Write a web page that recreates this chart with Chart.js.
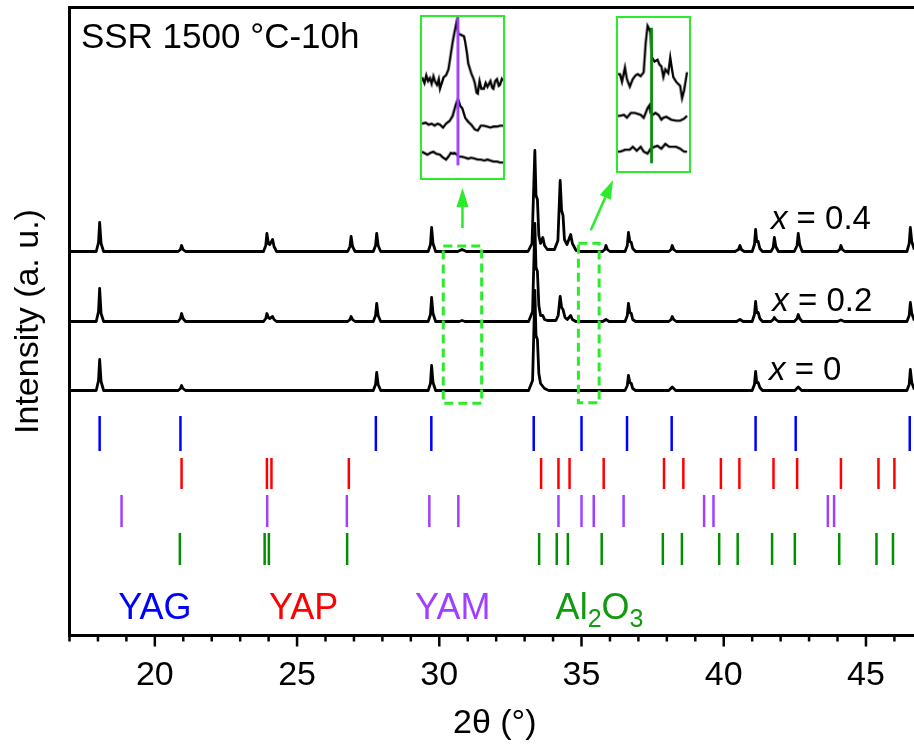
<!DOCTYPE html>
<html><head><meta charset="utf-8">
<script src="https://cdn.jsdelivr.net/npm/chart.js@4.4.1/dist/chart.umd.min.js"></script>
<style>
html,body{margin:0;padding:0;background:#fff;overflow:hidden;width:914px;height:744px;}
#wrap{position:relative;width:914px;height:744px;overflow:hidden;background:#fff;}
#main{position:absolute;left:0;top:0;}
.inset{position:absolute;background:#fff;border:2px solid #2beb2b;}
</style></head><body>
<div id="wrap">
<canvas id="main" width="920" height="744" style="width:920px;height:744px"></canvas>
<canvas id="in1" class="inset" width="85" height="165" style="left:420px;top:15px;width:85px;height:165px"></canvas>
<canvas id="in2" class="inset" width="75" height="157" style="left:616px;top:16px;width:75px;height:157px"></canvas>
</div>
<script>
// ---------- DATA ----------
const minorTicks = [17,18,19,20,21,22,23,24,25,26,27,28,29,30,31,32,33,34,35,36,37,38,39,40,41,42,43,44,45,46];
const majorTicks = [20,25,30,35,40,45];

// XRD patterns (2θ, intensity a.u., stacked)
const trace_x04 = [
[17.0,384],[17.94,384],[18.02,393],[18.06,413],[18.11,392],[18.20,384],
[20.82,384],[20.90,386],[20.94,390],[20.99,386],[21.08,384],
[23.82,384],[23.90,390],[23.94,402],[23.99,392],[24.04,391],[24.14,396],[24.19,389],[24.28,384],
[26.78,384],[26.86,389],[26.90,399],[26.95,389],[27.04,384],
[27.68,384],[27.76,390],[27.80,402],[27.85,390],[27.94,384],
[29.61,384],[29.69,391],[29.73,408],[29.78,392],[29.87,384],
[30.65,384],[30.80,386],[30.95,384],
[33.12,384],[33.26,392],[33.36,485],[33.40,440],[33.45,436],[33.50,400],[33.56,392],[33.64,398],[33.70,390],[33.80,386],
[34.05,386],[34.17,395],[34.25,455],[34.30,425],[34.35,420],[34.40,396],[34.49,391],[34.62,401],[34.68,392],[34.81,385],[34.95,384],
[35.74,384],[35.82,386],[35.86,390],[35.91,386],[36.00,384],
[36.53,384],[36.61,390],[36.65,403],[36.70,394],[36.75,393],[36.80,387],[36.90,384],
[38.07,384],[38.15,386],[38.19,390],[38.24,386],[38.33,384],
[40.40,384],[40.52,386],[40.57,390],[40.62,386],[40.72,384],
[41.00,384],[41.08,391],[41.12,406],[41.16,394],[41.21,394],[41.27,387],[41.36,384],
[41.66,384],[41.74,388],[41.78,398],[41.83,389],[41.92,384],
[42.48,384],[42.58,390],[42.62,402],[42.67,391],[42.76,384],
[44.00,384],[44.08,386],[44.12,390],[44.17,386],[44.26,384],
[46.44,384],[46.52,392],[46.56,408],[46.61,394],[46.70,386]
];
const trace_x02 = [
[17.0,314],[17.94,314],[18.02,324],[18.06,347],[18.11,322],[18.20,314],
[20.82,314],[20.90,317],[20.94,322],[20.99,317],[21.08,314],
[23.82,314],[23.90,317],[23.94,322],[23.99,318],[24.04,317],[24.14,319],[24.19,316],[24.28,314],
[26.78,314],[26.86,316],[26.90,319],[26.95,316],[27.04,314],
[27.68,314],[27.76,320],[27.80,332],[27.85,320],[27.94,314],
[29.61,314],[29.69,321],[29.73,338],[29.78,322],[29.87,314],
[30.70,314],[30.80,315],[30.90,314],
[33.14,314],[33.28,324],[33.36,412],[33.40,368],[33.45,364],[33.50,330],[33.56,320],[33.64,320],[33.70,316],[33.80,315],
[34.10,315],[34.18,320],[34.25,339],[34.30,328],[34.35,326],[34.42,318],[34.50,316],[34.62,320],[34.68,316],[34.80,314],
[35.75,314],[35.86,316],[35.97,314],
[36.53,314],[36.61,320],[36.65,332],[36.70,323],[36.75,322],[36.80,316],[36.90,314],
[38.07,314],[38.15,316],[38.19,319],[38.24,316],[38.33,314],
[40.45,314],[40.57,316],[40.68,314],
[41.00,314],[41.08,321],[41.12,334],[41.16,323],[41.21,323],[41.27,317],[41.36,314],
[41.66,314],[41.74,316],[41.78,318],[41.83,316],[41.92,314],
[42.48,314],[42.58,317],[42.62,321],[42.67,317],[42.76,314],
[44.00,314],[44.12,315.5],[44.24,314],
[46.44,314],[46.52,320],[46.56,333],[46.61,322],[46.70,315]
];
const trace_x0 = [
[17.0,245],[17.94,245],[18.02,255],[18.06,276],[18.11,254],[18.20,245],
[20.82,245],[20.90,247],[20.94,250],[20.99,247],[21.08,245],
[27.68,245],[27.76,251],[27.80,263],[27.85,251],[27.94,245],
[29.61,245],[29.69,252],[29.73,270],[29.78,253],[29.87,245],
[33.14,245],[33.28,255],[33.36,345],[33.40,300],[33.45,296],[33.50,262],[33.56,252],[33.70,247],[33.85,245],
[36.53,245],[36.61,250],[36.65,260],[36.70,253],[36.75,252],[36.80,247],[36.90,245],
[38.07,245],[38.19,248.5],[38.31,245],
[41.00,245],[41.08,251],[41.12,264],[41.16,253],[41.21,253],[41.27,248],[41.36,245],
[42.50,245],[42.62,248.5],[42.74,245],
[46.44,245],[46.52,251],[46.56,266],[46.61,253],[46.70,246]
];

// Reference stick positions (2θ)
const yagPeaks   = [18.06,20.90,27.77,29.72,33.32,35.00,36.60,38.17,41.12,42.53,46.54];
const yapPeaks   = [20.94,23.94,24.10,26.82,33.58,34.19,34.58,35.78,37.90,38.58,39.90,40.55,41.75,42.58,44.12,45.44,46.00];
const yamPeaks   = [18.83,23.95,26.75,29.65,30.67,34.19,35.00,35.43,36.48,39.31,39.64,43.66,43.88];
const al2o3Peaks = [20.88,23.86,24.01,26.76,33.51,34.13,34.52,35.71,37.86,38.53,39.84,40.49,41.70,42.50,44.06,45.37,45.95];

// Inset 1 (2θ 30.14–31.49), YAM marker at 30.74
const inset1_x04 = [[30.14,104],[30.18,98],[30.21,106],[30.24,100],[30.27,103],[30.30,97],[30.33,105],[30.36,99],[30.39,96],[30.42,102],[30.44,92],[30.47,98],[30.50,104],[30.54,106],[30.58,112],[30.62,128],[30.65,140],[30.68,150],[30.70,156],[30.72,162],[30.75,148],[30.78,148],[30.81,147],[30.84,146],[30.86,140],[30.89,128],[30.91,118],[30.96,108],[31.00,102],[31.02,98],[31.05,88],[31.07,87],[31.10,100],[31.13,92],[31.17,92],[31.20,98],[31.23,94],[31.28,100],[31.31,93],[31.33,92],[31.36,100],[31.39,102],[31.42,95],[31.44,96],[31.47,102],[31.49,100]];
const inset1_x02 = [[30.14,56],[30.20,57],[30.25,55],[30.30,56],[30.35,54],[30.40,56],[30.44,55],[30.49,52],[30.54,56],[30.60,59],[30.65,64],[30.70,75],[30.74,82],[30.76,78],[30.78,74],[30.81,72],[30.84,66],[30.86,62],[30.91,58],[30.96,55],[31.02,50],[31.07,49],[31.12,54],[31.17,54],[31.23,53],[31.28,52],[31.33,53],[31.39,53],[31.44,54],[31.49,54]];
const inset1_x0  = [[30.14,27],[30.20,25],[30.23,24],[30.28,26],[30.33,27],[30.38,25],[30.44,24],[30.49,21],[30.54,19],[30.58,22],[30.62,26],[30.66,25],[30.68,26],[30.72,24],[30.75,22],[30.80,22],[30.86,21],[30.91,20],[30.96,21],[31.02,20],[31.07,19],[31.12,19],[31.18,18],[31.23,19],[31.28,18],[31.33,17],[31.39,17],[31.44,16],[31.49,16]];
// Inset 2 (2θ 34.88–35.60), Al2O3 marker at 35.22
const inset2_x04 = [[34.88,100],[34.90,100],[34.92,92],[34.95,107],[34.97,95],[35.00,87],[35.03,95],[35.06,99],[35.08,100],[35.11,98],[35.14,102],[35.16,132],[35.18,150],[35.20,146],[35.21,143],[35.22,118],[35.25,113],[35.28,115],[35.30,110],[35.32,108],[35.34,97],[35.36,105],[35.39,101],[35.41,117],[35.42,110],[35.44,97],[35.47,92],[35.51,88],[35.53,75],[35.55,83],[35.58,102]];
const inset2_x02 = [[34.88,57],[34.90,57],[34.94,58],[34.97,55],[35.01,60],[35.05,60],[35.08,59],[35.11,58],[35.14,55],[35.18,65],[35.20,68],[35.21,60],[35.23,58],[35.26,60],[35.29,58],[35.32,53],[35.34,55],[35.37,56],[35.42,53],[35.47,52],[35.51,52],[35.55,54],[35.58,57]];
const inset2_x0  = [[34.88,20],[34.90,20],[34.93,21],[34.95,22],[35.00,22],[35.03,25],[35.07,21],[35.11,25],[35.14,20],[35.18,18],[35.21,23],[35.25,25],[35.28,26],[35.32,23],[35.36,28],[35.40,25],[35.44,25],[35.47,25],[35.51,23],[35.55,20],[35.58,20]];

// ---------- LAYOUT / STYLE ----------
const FONT = "'Liberation Sans', Arial, Helvetica, sans-serif";
Chart.defaults.font.family = FONT;
Chart.defaults.color = '#000';
const C = {blue:'#0000ff', red:'#ff0000', purple:'#9f3fff', green:'#008f00', greenText:'#129a12', lime:'#2beb2b', limeDark:'#0a8a0a'};
const stickRows = [
  {peaks: yagPeaks, lo:184.5, hi:219.5, color:C.blue},
  {peaks: yapPeaks, lo:146.5, hi:177.5, color:C.red},
  {peaks: yamPeaks, lo:108.5, hi:140.5, color:C.purple},
  {peaks: al2o3Peaks, lo:70.5, hi:102.5, color:C.green}
];
const zoomBoxes = [
  {x0:30.14, x1:31.49, y0:232.2, y1:389.5},
  {x0:34.89, x1:35.62, y0:232.8, y1:392.2}
];
const labels = [
  {x:17.40, y:587.8, size:35, color:'#000', parts:[{t:'SSR 1500 °C-10h'}]},
  {x:41.66, y:406.2, size:33, color:'#000', parts:[{t:'x',it:true},{t:' = 0.4'}]},
  {x:41.71, y:324.8, size:33, color:'#000', parts:[{t:'x',it:true},{t:' = 0.2'}]},
  {x:41.59, y:255.5, size:33, color:'#000', parts:[{t:'x',it:true},{t:' = 0'}]},
  {x:18.71, y:16.2, size:36, color:C.blue, parts:[{t:'YAG'}]},
  {x:24.01, y:16.2, size:36, color:C.red, parts:[{t:'YAP'}]},
  {x:29.15, y:16.2, size:36, color:C.purple, parts:[{t:'YAM'}]},
  {x:34.09, y:16.2, size:36, color:C.greenText, parts:[{t:'Al'},{t:'2',sub:true},{t:'O'},{t:'3',sub:true}]}
];

function stickData(peaks, lo, hi){
  const d=[];
  peaks.forEach(p=>{d.push({x:p,y:lo});d.push({x:p,y:hi});d.push({x:p,y:null});});
  return d;
}

const framePlugin = {
  id:'frame',
  afterDraw(chart){
    const {ctx, chartArea:{left,top,right,bottom}, scales:{x}} = chart;
    ctx.save();
    ctx.strokeStyle='#000'; ctx.lineCap='butt';
    ctx.lineWidth=3;
    ctx.beginPath();
    ctx.moveTo(left-1.5, top); ctx.lineTo(right, top);
    ctx.moveTo(left, top); ctx.lineTo(left, bottom);
    ctx.moveTo(left-1.5, bottom); ctx.lineTo(right, bottom);
    ctx.stroke();
    ctx.lineWidth=2.5;
    minorTicks.forEach(v=>{
      const px=x.getPixelForValue(v);
      const len = majorTicks.includes(v)?11:6;
      ctx.beginPath(); ctx.moveTo(px,bottom); ctx.lineTo(px,bottom+len); ctx.stroke();
    });
    ctx.restore();
  }
};

function drawArrow(ctx,x1,y1,x2,y2){
  const a=Math.atan2(y2-y1,x2-x1), hl=19, hw=6;
  const bx=x2-hl*Math.cos(a), by=y2-hl*Math.sin(a);
  ctx.beginPath(); ctx.moveTo(x1,y1); ctx.lineTo(bx,by); ctx.stroke();
  ctx.beginPath(); ctx.moveTo(x2,y2);
  ctx.lineTo(bx+hw*Math.sin(a), by-hw*Math.cos(a));
  ctx.lineTo(bx-hw*Math.sin(a), by+hw*Math.cos(a));
  ctx.closePath(); ctx.fill();
}

const annotPlugin = {
  id:'annot',
  afterDatasetsDraw(chart){
    const {ctx, scales:{x,y}} = chart;
    ctx.save();
    ctx.strokeStyle=C.lime; ctx.lineWidth=3; ctx.setLineDash([9,5]);
    const px = zoomBoxes.map(b=>({l:x.getPixelForValue(b.x0), r:x.getPixelForValue(b.x1), t:y.getPixelForValue(b.y1), b:y.getPixelForValue(b.y0)}));
    px.forEach(p=>{ctx.strokeRect(p.l,p.t,p.r-p.l,p.b-p.t);});
    ctx.setLineDash([]);
    ctx.fillStyle=C.lime; ctx.lineWidth=2.5;
    const in1=document.getElementById('in1'), in2=document.getElementById('in2');
    const c1=(px[0].l+px[0].r)/2;
    drawArrow(ctx, c1, px[0].t-18, c1, in1.offsetTop+in1.offsetHeight+4);
    const c2=(px[1].l+px[1].r)/2;
    drawArrow(ctx, c2+2, px[1].t-13, in2.offsetLeft-3, in2.offsetTop+in2.offsetHeight+3);
    labels.forEach(L=>{
      let cx=x.getPixelForValue(L.x); const cy=y.getPixelForValue(L.y);
      ctx.fillStyle=L.color; ctx.textBaseline='alphabetic'; ctx.textAlign='left';
      L.parts.forEach(p=>{
        const fs = p.sub? Math.round(L.size*0.7) : L.size;
        ctx.font = (p.it?'italic ':'') + fs + 'px ' + FONT;
        ctx.fillText(p.t, cx, cy + (p.sub? L.size*0.2 : 0));
        cx += ctx.measureText(p.t).width;
      });
    });
    ctx.restore();
  }
};

const datasets = [];
stickRows.forEach(r=>datasets.push({data:stickData(r.peaks,r.lo,r.hi), borderColor:r.color, borderWidth:2.5, pointRadius:0, spanGaps:false, borderCapStyle:'butt'}));
[trace_x04, trace_x02, trace_x0].forEach(t=>datasets.push({data:t, borderColor:'#000', borderWidth:2.8, pointRadius:0, borderJoinStyle:'round'}));

new Chart(document.getElementById('main'), {
  type:'line',
  data:{datasets},
  options:{
    responsive:false, animation:false, devicePixelRatio:1,
    layout:{padding:{top:7.5,left:0,right:0,bottom:0}},
    plugins:{legend:{display:false}, tooltip:{enabled:false}},
    elements:{point:{radius:0}, line:{tension:0}},
    scales:{
      x:{type:'linear', min:17, max:46.9,
        afterBuildTicks:s=>{s.ticks=minorTicks.map(v=>({value:v}));},
        ticks:{autoSkip:false, maxRotation:0, minRotation:0, padding:20, font:{size:34}, color:'#000',
          callback:v=>majorTicks.includes(v)?String(v):''},
        grid:{display:false, drawTicks:false}, border:{display:false},
        title:{display:true, text:'2θ (°)', font:{size:34}, color:'#000', padding:0},
        afterFit:s=>{s.height=108.5;}
      },
      y:{type:'linear', min:0, max:628,
        ticks:{display:false}, grid:{display:false, drawTicks:false}, border:{display:false},
        title:{display:true, text:'Intensity (a. u.)', font:{size:34}, color:'#000', padding:8},
        afterFit:s=>{s.width=69.5;}
      }
    }
  },
  plugins:[framePlugin, annotPlugin]
});

function makeInset(id, xmin, xmax, ymax, traces, marker){
  const ds=[{data:[[marker.x,marker.y0],[marker.x,marker.y1]], borderColor:marker.color, borderWidth:3, pointRadius:0, borderCapStyle:'butt'}];
  traces.forEach(t=>ds.push({data:t, borderColor:'#000', borderWidth:2.4, pointRadius:0, tension:0}));
  new Chart(document.getElementById(id), {
    type:'line', data:{datasets:ds},
    options:{responsive:false, animation:false, devicePixelRatio:1, layout:{padding:0},
      plugins:{legend:{display:false}, tooltip:{enabled:false}},
      scales:{x:{type:'linear', min:xmin, max:xmax, display:false}, y:{type:'linear', min:0, max:ymax, display:false}}}
  });
}
makeInset('in1', 30.14, 31.49, 166, [inset1_x04, inset1_x02, inset1_x0], {x:30.74, y0:13, y1:166, color:C.purple});
makeInset('in2', 34.88, 35.60, 158, [inset2_x04, inset2_x02, inset2_x0], {x:35.22, y0:8, y1:148, color:C.limeDark});
</script>
</body></html>
